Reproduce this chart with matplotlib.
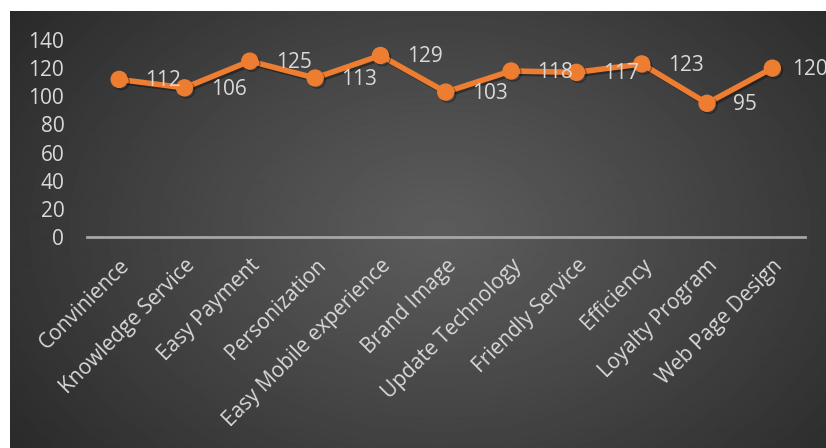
import numpy as np
import matplotlib
matplotlib.use("Agg")
import matplotlib.pyplot as plt
import matplotlib.patheffects as pe

categories = ["Convinience", "Knowledge Service", "Easy Payment", "Personization",
              "Easy Mobile experience", "Brand Image", "Update Technology",
              "Friendly Service", "Efficiency", "Loyalty Program", "Web Page Design"]
scores = [112, 106, 125, 113, 129, 103, 118, 117, 123, 95, 120]
y_ticks = [0, 20, 40, 60, 80, 100, 120, 140]

W, H = 826, 448
fig = plt.figure(figsize=(W / 100, H / 100), dpi=100, facecolor="white")

# dark panel with a soft radial gradient
bg = fig.add_axes([10 / W, 0, (W - 10) / W, (H - 11) / H])
bg.set_axis_off()
ny, nx = 437, 816
yy, xx = np.mgrid[0:ny, 0:nx]
cx, cy = 430, 220
d = np.sqrt(((xx - cx) / 560) ** 2 + ((yy - cy) / 400) ** 2)
d = np.clip(d, 0, 1)
light, dark = 0.36, 0.15
img = light - (light - dark) * d ** 1.1
bg.imshow(img, cmap="gray", vmin=0, vmax=1, aspect="auto",
          extent=[0, 1, 0, 1], interpolation="bilinear")
bg.set_xlim(0, 1)
bg.set_ylim(0, 1)

# plot area
x0, x1 = 86.5, 805
y_zero, y_top = 237, 40
ax = fig.add_axes([x0 / W, (H - y_zero) / H, (x1 - x0) / W, (y_zero - y_top) / H])
ax.patch.set_alpha(0)
x = np.arange(len(categories))
ax.set_xlim(-0.5, len(categories) - 0.5)
ax.set_ylim(0, 140)

for s in ["top", "right", "left"]:
    ax.spines[s].set_visible(False)
ax.spines["bottom"].set_color("#a6a6a6")
ax.spines["bottom"].set_linewidth(2)

txt_col = "#d9d9d9"
font = "Open Sans"
ax.set_yticks(y_ticks)
ax.set_yticklabels([str(v) for v in y_ticks], fontsize=15, color=txt_col, family=font)
ax.tick_params(axis="y", length=0, pad=16)
ax.set_xticks(x)
ax.set_xticklabels(categories, rotation=45, ha="right", va="top",
                   rotation_mode="anchor", fontsize=15, color=txt_col, family=font)
ax.tick_params(axis="x", length=0, pad=13)

shadow = [pe.SimpleLineShadow(offset=(1.5, -1.5), shadow_color="black", alpha=0.35),
          pe.Normal()]
ax.plot(x, scores, color="#ed7d31", linewidth=4.0, marker="o", markersize=11.5,
        markeredgecolor="#ed7d31", solid_capstyle="round", clip_on=False,
        path_effects=shadow, zorder=3)

# value labels to the right of each point; the last one sits closer to the edge
for i, (xi, v) in enumerate(zip(x, scores)):
    dx = 14.5 if i == len(scores) - 1 else 19
    ax.annotate(str(v), (xi, v), xytext=(dx, -1), textcoords="offset points",
                ha="left", va="center", fontsize=15, color=txt_col, family=font,
                zorder=5, annotation_clip=False)

fig.savefig("out.png", dpi=100, facecolor="white")
